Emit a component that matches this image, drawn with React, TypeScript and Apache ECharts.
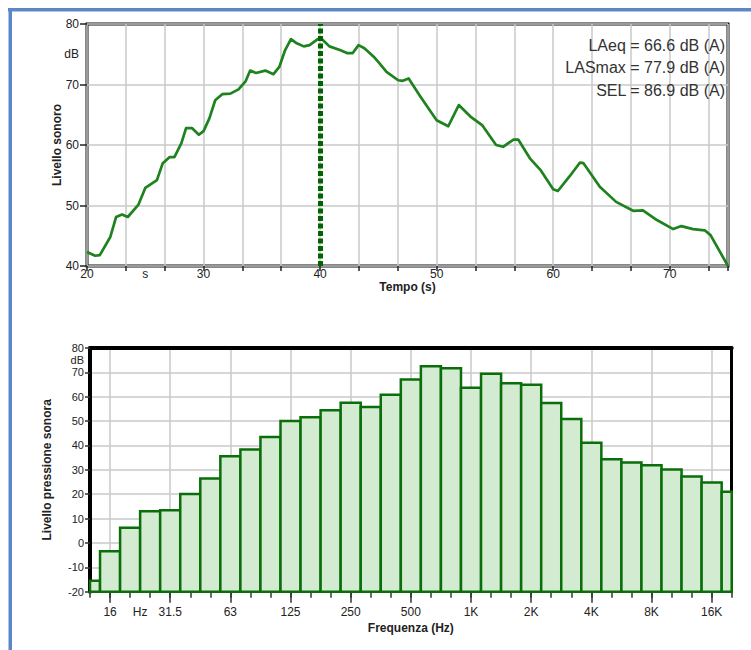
import React, { useEffect, useRef } from 'react';
import * as echarts from 'echarts';

// ---------- Top chart: sound level over time ----------
const timeSeconds = [
  20.0, 20.7, 21.1, 22.0, 22.5, 23.0, 23.5, 24.4, 25.0, 26.0, 26.5, 27.1, 27.5, 28.1, 28.5, 29.0,
  29.6, 30.0, 30.5, 31.0, 31.6, 32.3, 33.0, 33.6, 34.0, 34.5, 35.3, 36.0, 36.5, 37.0, 37.5, 38.0,
  38.6, 39.1, 39.8, 40.1, 40.8, 41.7, 42.3, 42.8, 43.3, 43.8, 44.6, 45.1, 45.7, 46.7, 47.1, 47.6,
  48.6, 50.0, 51.0, 51.9, 52.9, 53.9, 55.1, 55.7, 56.6, 57.0, 58.0, 58.9, 60.0, 60.4, 61.4, 62.3,
  62.6, 64.0, 65.4, 66.9, 67.7, 68.9, 70.3, 71.0, 72.0, 73.0, 73.5, 75.0,
];
const soundLevel = [
  42.3, 41.7, 41.8, 44.8, 48.1, 48.5, 48.1, 50.1, 52.9, 54.2, 57.0, 58.0, 58.0, 60.3, 62.8, 62.8,
  61.7, 62.3, 64.4, 67.4, 68.4, 68.5, 69.2, 70.5, 72.3, 71.9, 72.3, 71.7, 72.9, 75.7, 77.5, 76.8,
  76.3, 76.5, 77.5, 77.6, 76.3, 75.7, 75.2, 75.2, 76.5, 76.0, 74.6, 73.5, 72.1, 70.7, 70.6, 71.0,
  68.0, 64.1, 63.1, 66.6, 64.7, 63.3, 60.0, 59.7, 60.9, 60.9, 57.8, 55.9, 52.7, 52.4, 54.8, 57.1,
  57.0, 53.1, 50.6, 49.1, 49.2, 47.6, 46.1, 46.6, 46.1, 45.9, 45.1, 40.0,
];
const timeMin = 20;
const timeMax = 75;
const timeTickLabels = [20, 30, 40, 50, 60, 70];
const timeUnitPos = 25;
const levelMin = 40;
const levelMax = 80;
const levelTickLabels = [40, 50, 60, 70, 80];
const levelUnitPos = 75;
const cursorTime = 40;
const statNames = ['LAeq', 'LASmax', 'SEL'];
const statValues = [66.6, 77.9, 86.9];

// ---------- Bottom chart: third-octave spectrum ----------
const bandLabels = [
  '12.5', '16', '20', '25', '31.5', '40', '50', '63', '80', '100', '125', '160', '200', '250', '315',
  '400', '500', '630', '800', '1K', '1.25K', '1.6K', '2K', '2.5K', '3.15K', '4K', '5K', '6.3K', '8K',
  '10K', '12.5K', '16K', '20K',
];
const bandLevels = [
  -15.5, -3.4, 6.2, 13.0, 13.4, 20.1, 26.5, 35.6, 38.4, 43.5, 50.0, 51.6, 54.5, 57.5, 55.8,
  60.8, 67.1, 72.5, 71.7, 63.7, 69.4, 65.5, 64.9, 57.4, 50.9, 41.1, 34.4, 33.0, 31.9,
  30.1, 27.3, 24.8, 21.0,
];
const bandTickLabels = ['16', '31.5', '63', '125', '250', '500', '1K', '2K', '4K', '8K', '16K'];
const freqUnitPos = 2.5;
const splMin = -20;
const splMax = 80;
const splTickLabels = [-20, -10, 0, 10, 20, 30, 40, 50, 60, 70, 80];
const splUnitPos = 75;

const FONT = '"Liberation Sans", Arial, sans-serif';
const TXT = '#222';
const GRID_LINE = '#c8c8c8';
const BAR_FILL = '#d3ebd1';
const BAR_EDGE = '#0a6e0a';

export default function App() {
  const ref = useRef<HTMLDivElement>(null);

  useEffect(() => {
    if (!ref.current) return;
    const chart = echarts.init(ref.current, null, { renderer: 'svg' });

    const labelStyle = { color: TXT, fontSize: 12, fontFamily: FONT };
    const nameStyle = { color: TXT, fontSize: 12, fontWeight: 'bold' as const, fontFamily: FONT };
    const isBandLabel = (_i: number, v: string) => bandTickLabels.includes(v);

    const option: any = {
      animation: false,
      textStyle: { fontFamily: FONT },
      graphic: [
        { type: 'rect', silent: true, shape: { x: 8, y: 8, width: 743, height: 3.5 }, style: { fill: '#5b87c8' } },
        { type: 'rect', silent: true, shape: { x: 8.5, y: 8, width: 3.5, height: 642 }, style: { fill: '#5b87c8' } },
        ...statNames.map((n, i) => ({
          type: 'text',
          silent: true,
          z: 10,
          x: 725,
          y: 45 + i * 22.5,
          style: {
            text: `${n} = ${statValues[i].toFixed(1)} dB (A)`,
            font: `16px ${FONT}`,
            fill: '#333',
            align: 'right',
            verticalAlign: 'middle',
          },
        })),
      ],
      grid: [
        { left: 87, top: 24, width: 641, height: 242, show: true, borderColor: '#111', borderWidth: 3 },
        { left: 90, top: 348, width: 641.7, height: 243.7 },
      ],
      xAxis: [
        {
          gridIndex: 0,
          type: 'value',
          position: 'bottom',
          min: timeMin,
          max: timeMax,
          interval: 10 / 3,
          axisLine: { show: false, onZero: false },
          axisTick: { show: true, length: 5, lineStyle: { color: '#222', width: 1.5 } },
          splitLine: { show: true, lineStyle: { color: GRID_LINE, width: 1.5 } },
          axisLabel: {
            ...labelStyle,
            customValues: [...timeTickLabels, timeUnitPos],
            formatter: (v: number) => (v === timeUnitPos ? 's' : String(v)),
            margin: 2,
          },
          name: 'Tempo (s)',
          nameLocation: 'middle',
          nameGap: 15,
          nameMoveOverlap: false,
          nameTextStyle: { ...nameStyle, lineHeight: 12 },
        },
        {
          gridIndex: 1,
          type: 'category',
          position: 'bottom',
          data: bandLabels,
          boundaryGap: false,
          axisLine: { show: true, onZero: false, lineStyle: { color: '#888', width: 1 } },
          axisTick: { show: true, interval: 0, length: 6, lineStyle: { color: '#333', width: 1.5 } },
          axisLabel: { ...labelStyle, interval: isBandLabel, margin: 14 },
          splitLine: { show: true, interval: isBandLabel, lineStyle: { color: GRID_LINE, width: 1.5 } },
          name: 'Frequenza (Hz)',
          nameLocation: 'middle',
          nameGap: 30,
          nameMoveOverlap: false,
          nameTextStyle: nameStyle,
        },
        {
          gridIndex: 1,
          type: 'category',
          position: 'bottom',
          data: bandLabels,
          boundaryGap: false,
          axisLine: { show: false, onZero: false },
          axisTick: { show: true, interval: isBandLabel, length: 11, lineStyle: { color: '#333', width: 1.5 } },
          axisLabel: { show: false },
          splitLine: { show: false },
        },
        {
          gridIndex: 1,
          type: 'value',
          position: 'bottom',
          min: 0,
          max: bandLabels.length - 1,
          axisLine: { show: false, onZero: false },
          axisTick: { show: false },
          splitLine: { show: false },
          axisLabel: { ...labelStyle, customValues: [freqUnitPos], formatter: () => 'Hz', margin: 14 },
        },
        {
          gridIndex: 1,
          type: 'value',
          position: 'top',
          axisLine: { show: true, onZero: false, lineStyle: { color: '#000', width: 4 } },
          axisTick: { show: false },
          axisLabel: { show: false },
          splitLine: { show: false },
        },
      ],
      yAxis: [
        {
          gridIndex: 0,
          type: 'value',
          position: 'left',
          min: levelMin,
          max: levelMax,
          interval: 10,
          axisLine: { show: false, onZero: false },
          axisTick: { show: true, length: 7, lineStyle: { color: '#222', width: 1.5 } },
          splitLine: { show: true, lineStyle: { color: GRID_LINE, width: 1.5 } },
          axisLabel: {
            ...labelStyle,
            customValues: [...levelTickLabels, levelUnitPos],
            formatter: (v: number) => (v === levelUnitPos ? 'dB' : String(v)),
            margin: 8,
          },
          name: 'Livello sonoro',
          nameLocation: 'middle',
          nameGap: 24,
          nameMoveOverlap: false,
          nameTextStyle: nameStyle,
        },
        {
          gridIndex: 1,
          type: 'value',
          position: 'left',
          min: splMin,
          max: splMax,
          interval: 10,
          axisLine: { show: true, onZero: false, lineStyle: { color: '#000', width: 4 } },
          axisTick: { show: true, length: 5, lineStyle: { color: '#333', width: 1.5 } },
          splitLine: { show: true, lineStyle: { color: GRID_LINE, width: 1.5 } },
          axisLabel: {
            ...labelStyle,
            fontSize: 11,
            lineHeight: 10,
            customValues: [...splTickLabels, splUnitPos],
            formatter: (v: number) => (v === splUnitPos ? 'dB' : String(v)),
            margin: 6,
          },
          name: 'Livello pressione sonora',
          nameLocation: 'middle',
          nameGap: 37,
          nameMoveOverlap: false,
          nameTextStyle: nameStyle,
        },
        {
          gridIndex: 1,
          type: 'value',
          position: 'right',
          axisLine: { show: true, onZero: false, lineStyle: { color: '#000', width: 3 } },
          axisTick: { show: false },
          axisLabel: { show: false },
          splitLine: { show: false },
        },
      ],
      series: [
        {
          type: 'line',
          xAxisIndex: 0,
          yAxisIndex: 0,
          data: timeSeconds.map((t, i) => [t, soundLevel[i]]),
          showSymbol: false,
          symbol: 'none',
          lineStyle: { color: '#1e821e', width: 2.7, join: 'round' },
          markLine: {
            silent: true,
            symbol: ['none', 'none'],
            label: { show: false },
            lineStyle: { color: '#006400', width: 5, type: [5, 2.5] },
            data: [{ xAxis: cursorTime }],
          },
        },
        {
          type: 'custom',
          xAxisIndex: 1,
          yAxisIndex: 1,
          data: bandLevels.map((v, i) => [i, v]),
          encode: { x: 0, y: 1 },
          z: 2,
          renderItem: (params: any, api: any) => {
            const i = api.value(0);
            const v = api.value(1);
            const top = api.coord([i, v]);
            const base = api.coord([i, splMin]);
            const w = api.size([1, 0])[0];
            const cs = params.coordSys;
            const shape = echarts.graphic.clipRectByRect(
              { x: top[0] - w / 2, y: top[1], width: w, height: base[1] - top[1] },
              { x: cs.x, y: cs.y, width: cs.width, height: cs.height },
            );
            if (!shape) return null;
            return {
              type: 'rect',
              shape,
              style: { fill: BAR_FILL, stroke: BAR_EDGE, lineWidth: 2.5 },
            };
          },
        },
      ],
    };

    chart.setOption(option);
    return () => chart.dispose();
  }, []);

  return <div ref={ref} style={{ position: 'absolute', left: 0, top: 0, width: 751, height: 650 }} />;
}
